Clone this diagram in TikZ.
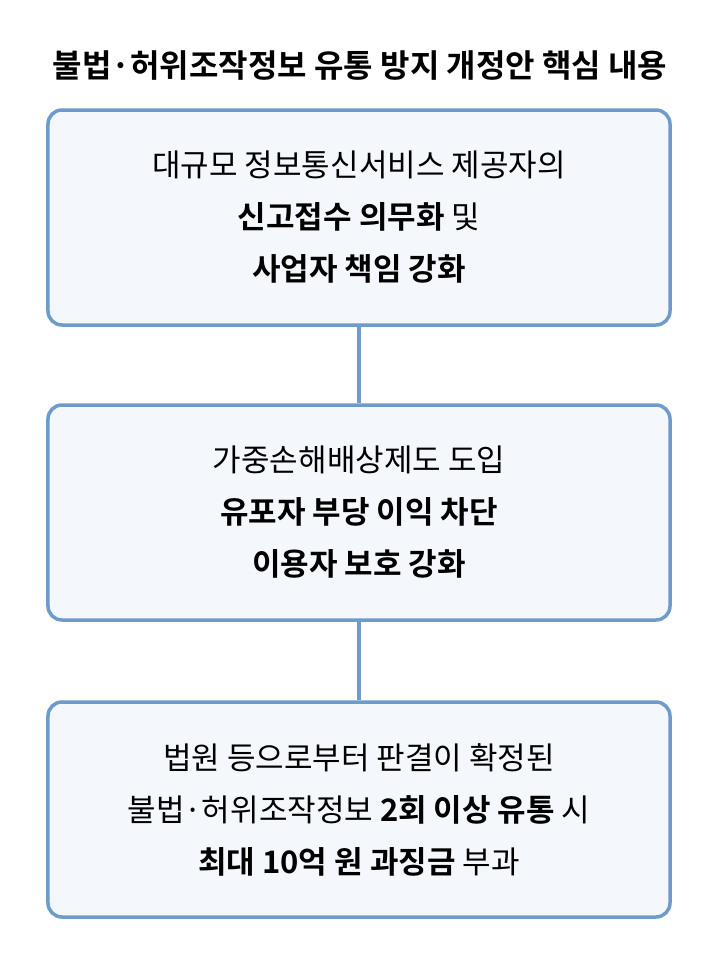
\documentclass[tikz,border=0pt]{standalone}
\usepackage{fontspec}
\setmainfont{Noto Sans CJK KR}[BoldFont={Noto Sans CJK KR Bold}]
\tikzset{
  stepbox/.style={draw=boxblue, fill=boxfill, line width=3.5bp, rounded corners=14bp,
    minimum width=622bp, minimum height=215bp, align=center, font=\fontsize{31bp}{52bp}\selectfont},
  link/.style={draw=boxblue, line width=3.5bp}
}
\definecolor{boxblue}{HTML}{6E9BCB}
\definecolor{boxfill}{HTML}{F4F7FC}
\begin{document}
\begin{tikzpicture}[x=1bp,y=-1bp]
	\useasboundingbox (0,0) rectangle (720,963);
	\node[font=\bfseries\fontsize{32bp}{36bp}\selectfont] (title) at (360,66) {불법·허위조작정보 유통 방지 개정안 핵심 내용};
	\node[stepbox] (duty) at (359,217.5) {대규모 정보통신서비스 제공자의\\\textbf{신고접수 의무화} 및\\\textbf{사업자 책임 강화}};
	\node[stepbox] (damage) at (359,512.5) {가중손해배상제도 도입\\\textbf{유포자 부당 이익 차단}\\\textbf{이용자 보호 강화}};
	\node[stepbox] (fine) at (359,809.5) {법원 등으로부터 판결이 확정된\\불법·허위조작정보 \textbf{2회 이상 유통} 시\\\textbf{최대 10억 원 과징금} 부과};
	\draw[link] (duty) -- (damage);
	\draw[link] (damage) -- (fine);
\end{tikzpicture}
\end{document}
